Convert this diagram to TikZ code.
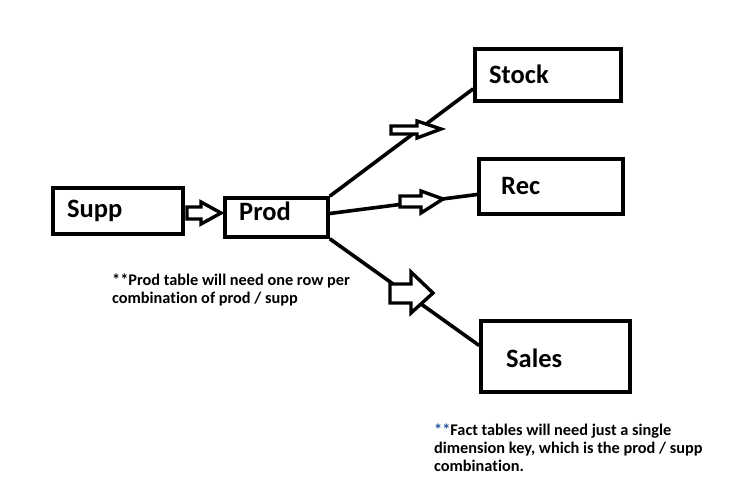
\documentclass[tikz,border=0pt]{standalone}
\usepackage{fontspec}
\setmainfont[Ligatures={NoCommon}]{Carlito}
\definecolor{starblue}{RGB}{30,80,160}
\begin{document}
\begin{tikzpicture}[x=1pt,y=-1pt,
  box/.style={draw=black,line width=3.6pt,inner sep=0pt,fill=none},
  lbl/.style={font=\bfseries\fontsize{26.5}{30}\selectfont,inner sep=0pt,anchor=base west},
  note/.style={font=\bfseries\fontsize{16.3}{18.3}\selectfont,inner sep=0pt,anchor=north west,align=left},
  link/.style={draw=black,line width=3.6pt},
  harrow/.style={draw=black,line width=3.4pt,line join=miter,fill=white}]
\useasboundingbox (0,0) rectangle (737,498);
\fill[white] (0,0) rectangle (737,498);
% boxes
\node[box,minimum width=130pt,minimum height=46pt] (supp) at (118,211) {};
\node[box,minimum width=103pt,minimum height=39pt] (prod) at (276.5,217.5) {};
\node[box,minimum width=146pt,minimum height=52pt] (stock) at (548,75) {};
\node[box,minimum width=144pt,minimum height=55pt] (rec) at (551,186.5) {};
\node[box,minimum width=149pt,minimum height=71pt] (sales) at (555.5,356.5) {};
% labels
\node[lbl] (tsupp) at (67,217) {Supp};
\node[lbl] (tprod) at (239,220) {Prod};
\node[lbl] (tstock) at (489,83) {Stock};
\node[lbl] (trec) at (501,194) {Rec};
\node[lbl] (tsales) at (506,367) {Sales};
% connectors
\draw[link] (prod.north east) -- ([yshift=14pt]stock.south west);
\draw[link] ([yshift=4pt]prod.east) -- ([yshift=-8pt]rec.west);
\draw[link] (prod.south east) -- ([yshift=11pt]sales.west);
% hollow arrows
\draw[harrow] (187,207) -- (201,207) -- (201,202) -- (221,213) -- (201,224) -- (201,219) -- (187,219) -- cycle;
\draw[harrow] (391,126) -- (417,126) -- (417,121) -- (441,129) -- (417,138) -- (417,134) -- (391,134) -- cycle;
\draw[harrow] (400,196) -- (421,196) -- (421,191) -- (443,199) -- (421,213) -- (421,207) -- (400,207) -- cycle;
\draw[harrow] (390,284) -- (411,284) -- (411,272) -- (433,293) -- (411,313) -- (411,303) -- (390,303) -- cycle;
% notes
\node[note] (n1) at (112,273.5) {**Prod table will need one row per\\combination of prod / supp};
\node[note] (n2) at (434,423.5) {\textcolor{starblue}{**}Fact tables will need just a single\\dimension key, which is the prod / supp\\combination.};
\end{tikzpicture}
\end{document}
